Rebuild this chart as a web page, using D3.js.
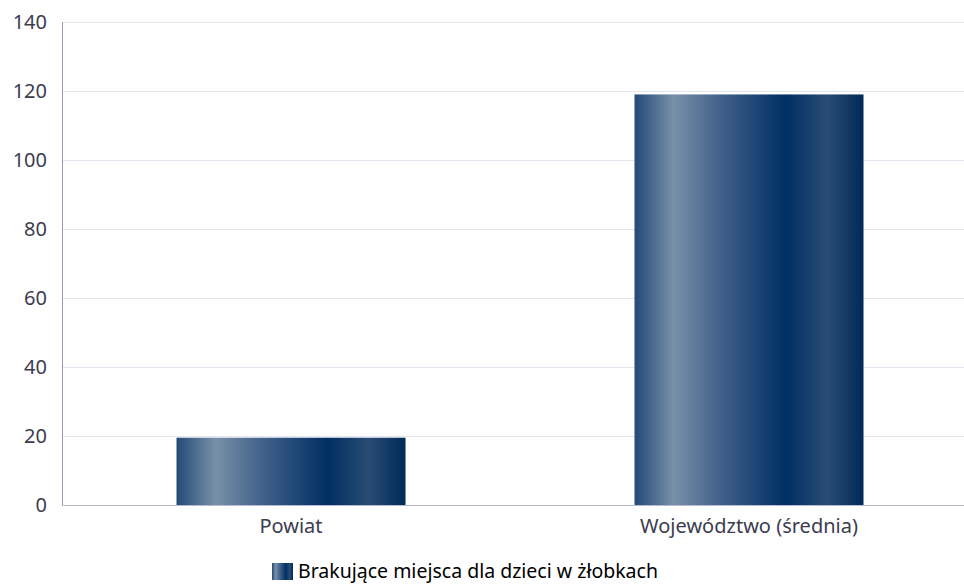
<!DOCTYPE html>
<html>
<head>
<meta charset="utf-8">
<script src="https://cdn.jsdelivr.net/npm/d3@7"></script>
<style>
  body { margin: 0; background: #fff; }
  text { font-family: "Noto Sans", sans-serif; }
</style>
</head>
<body>
<div id="chart"></div>
<script>
// Bar chart: missing nursery places, county vs. voivodeship average
const categories = ['Powiat', 'Województwo (średnia)'];
const values = [19.5, 119];
const yTicks = [0, 20, 40, 60, 80, 100, 120, 140];
const seriesName = 'Brakujące miejsca dla dzieci w żłobkach';

const width = 964;
const height = 585;
const margin = { top: 22, right: -14, bottom: 80, left: 62 };

const svg = d3.select('#chart')
    .append('svg')
    .attr('width', width)
    .attr('height', height);

// Metallic blue gradient for bars
const defs = svg.append('defs');
const grad = defs.append('linearGradient')
    .attr('id', 'barGrad')
    .attr('x1', '0%').attr('x2', '100%')
    .attr('y1', '0%').attr('y2', '0%');
[
    [0, '#234a78'],
    [0.17, '#7890a8'],
    [0.38, '#40608a'],
    [0.66, '#002f63'],
    [0.84, '#2a4c74'],
    [1, '#002a5a']
].forEach(([o, c]) => grad.append('stop').attr('offset', o).attr('stop-color', c));

const x = d3.scaleBand()
    .domain(categories)
    .range([margin.left, width - margin.right])
    .paddingInner(0.5)
    .paddingOuter(0.25);

const y = d3.scaleLinear()
    .domain([0, 140])
    .range([height - margin.bottom, margin.top]);

// Gridlines
svg.append('g')
    .selectAll('line')
    .data(yTicks.filter(t => t > 0))
    .enter()
    .append('line')
    .attr('x1', margin.left)
    .attr('x2', width)
    .attr('y1', d => y(d) + 0.5)
    .attr('y2', d => y(d) + 0.5)
    .attr('stroke', '#e4e4ee')
    .attr('stroke-width', 1);

// Bars
svg.append('g')
    .selectAll('rect')
    .data(values)
    .enter()
    .append('rect')
    .attr('x', (d, i) => x(categories[i]))
    .attr('width', x.bandwidth())
    .attr('y', d => y(d))
    .attr('height', d => y(0) - y(d))
    .attr('fill', 'url(#barGrad)');

// Axes lines
svg.append('line')
    .attr('x1', margin.left + 0.5).attr('x2', margin.left + 0.5)
    .attr('y1', margin.top).attr('y2', y(0))
    .attr('stroke', '#9a9abb');
svg.append('line')
    .attr('x1', margin.left).attr('x2', width)
    .attr('y1', y(0) + 0.5).attr('y2', y(0) + 0.5)
    .attr('stroke', '#b8b8d0');

// Y tick labels
svg.append('g')
    .selectAll('text')
    .data(yTicks)
    .enter()
    .append('text')
    .attr('x', 47)
    .attr('y', d => y(d))
    .attr('dy', '0.35em')
    .attr('text-anchor', 'end')
    .attr('font-size', '20px')
    .attr('fill', '#3c3c50')
    .text(d => d);

// X labels
svg.append('g')
    .selectAll('text')
    .data(categories)
    .enter()
    .append('text')
    .attr('x', d => x(d) + x.bandwidth() / 2)
    .attr('y', y(0) + 28)
    .attr('text-anchor', 'middle')
    .attr('font-size', '20px')
    .attr('fill', '#3c3c50')
    .text(d => d);

// Legend
const legend = svg.append('g');
legend.append('rect')
    .attr('x', 272).attr('y', 563)
    .attr('width', 21).attr('height', 17)
    .attr('fill', 'url(#barGrad)');
legend.append('text')
    .attr('x', 298).attr('y', 578)
    .attr('font-size', '19.5px')
    .attr('fill', '#000')
    .text(seriesName);
</script>
</body>
</html>
